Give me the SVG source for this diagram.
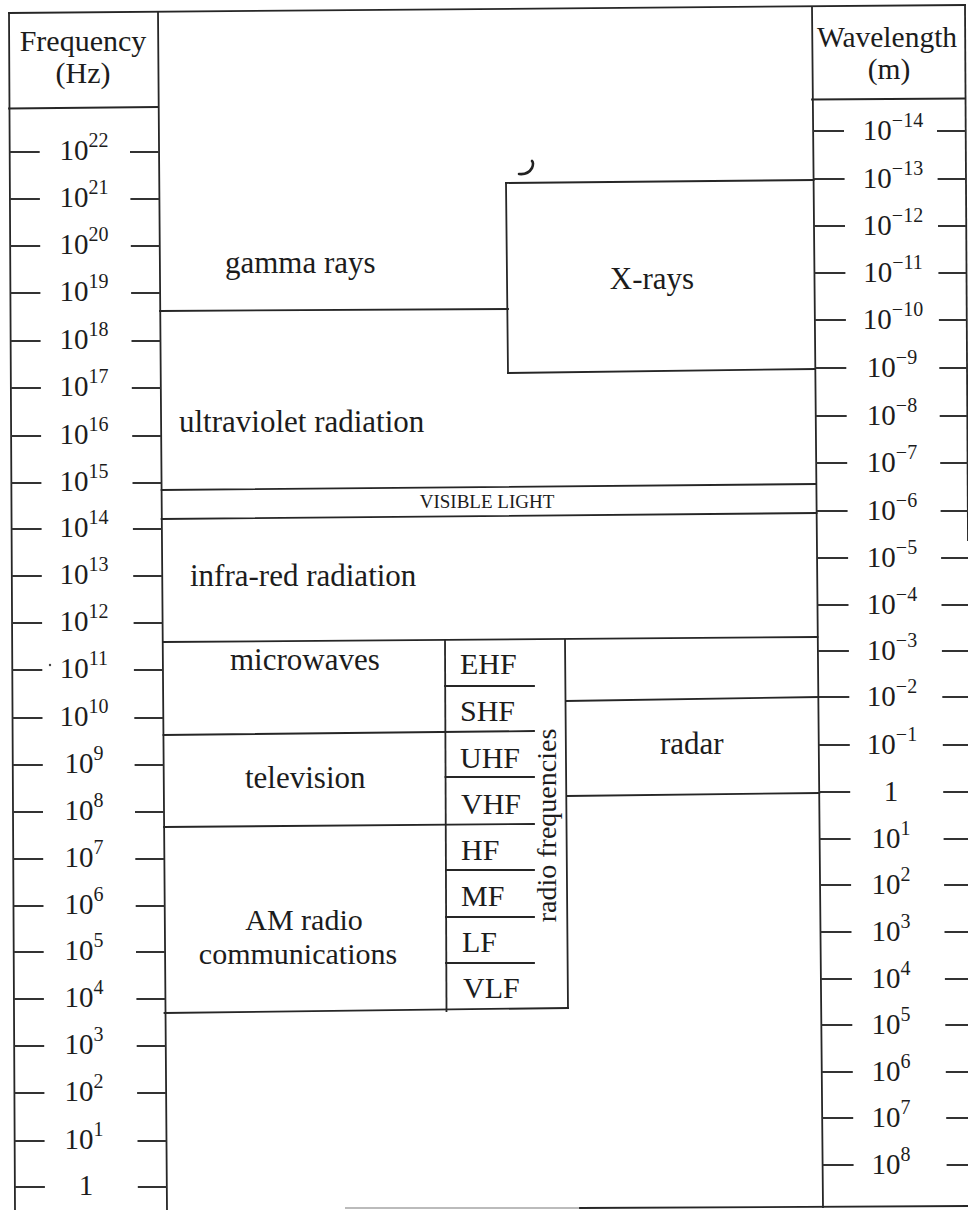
<svg xmlns="http://www.w3.org/2000/svg" width="968" height="1210" viewBox="0 0 968 1210">
<style>
.ln{stroke:#262626;stroke-width:1.8;fill:none;stroke-linecap:square}
.tk{stroke:#333;stroke-width:2;fill:none}
.t{font-family:"Liberation Serif","Times New Roman",serif;fill:#1c1c1c}
.lab{font-size:31px}
.hd{font-size:30px;text-anchor:middle}
.num{font-size:29px;text-anchor:middle}
.sup{font-size:20px}
.band{font-size:30px}
</style>
<rect width="968" height="1210" fill="#fff"/>

<g id="frame">
  <line class="ln" x1="9" y1="13" x2="965" y2="5"/>
  <line class="ln" x1="9" y1="13" x2="15" y2="1210"/>
  <line class="ln" x1="158" y1="12" x2="167" y2="1210"/>
  <line class="ln" x1="9" y1="108.5" x2="158" y2="107"/>
  <line class="ln" x1="812" y1="7" x2="823" y2="1207"/>
  <line class="ln" x1="965" y1="5" x2="968" y2="540"/>
  <line class="ln" x1="812" y1="99.5" x2="965" y2="98.5"/>
  <line x1="345" y1="1208" x2="580" y2="1208" stroke="#bbb" stroke-width="1.8"/>
  <line class="ln" x1="580" y1="1208" x2="968" y2="1206"/>
</g>

<g id="frequency-scale">
  <text class="t hd" x="83" y="51">Frequency</text>
  <text class="t hd" x="83" y="83">(Hz)</text>
  <g class="tk">
    <line x1="9.7" y1="152" x2="39.7" y2="152"/><line x1="130" y1="152" x2="159" y2="152"/>
    <line x1="9.9" y1="199" x2="39.9" y2="199"/><line x1="130.4" y1="199" x2="159.4" y2="199"/>
    <line x1="10.2" y1="246" x2="40.2" y2="246"/><line x1="130.8" y1="246" x2="159.8" y2="246"/>
    <line x1="10.4" y1="293" x2="40.4" y2="293"/><line x1="131.1" y1="293" x2="160.1" y2="293"/>
    <line x1="10.6" y1="341" x2="40.6" y2="341"/><line x1="131.5" y1="341" x2="160.5" y2="341"/>
    <line x1="10.9" y1="388" x2="40.9" y2="388"/><line x1="131.8" y1="388" x2="160.8" y2="388"/>
    <line x1="11.1" y1="436" x2="41.1" y2="436"/><line x1="132.2" y1="436" x2="161.2" y2="436"/>
    <line x1="11.4" y1="483" x2="41.4" y2="483"/><line x1="132.5" y1="483" x2="161.5" y2="483"/>
    <line x1="11.6" y1="529" x2="41.6" y2="529"/><line x1="132.9" y1="529" x2="161.9" y2="529"/>
    <line x1="11.8" y1="576" x2="41.8" y2="576"/><line x1="133.2" y1="576" x2="162.2" y2="576"/>
    <line x1="12.1" y1="623" x2="42.1" y2="623"/><line x1="133.6" y1="623" x2="162.6" y2="623"/>
    <line x1="12.3" y1="670" x2="42.3" y2="670"/><line x1="133.9" y1="670" x2="162.9" y2="670"/>
    <line x1="12.5" y1="718" x2="42.5" y2="718"/><line x1="134.3" y1="718" x2="163.3" y2="718"/>
    <line x1="12.8" y1="765" x2="42.8" y2="765"/><line x1="134.6" y1="765" x2="163.6" y2="765"/>
    <line x1="13" y1="812" x2="43" y2="812"/><line x1="135" y1="812" x2="164" y2="812"/>
    <line x1="13.2" y1="859" x2="43.2" y2="859"/><line x1="135.3" y1="859" x2="164.3" y2="859"/>
    <line x1="13.5" y1="906" x2="43.5" y2="906"/><line x1="135.7" y1="906" x2="164.7" y2="906"/>
    <line x1="13.7" y1="952" x2="43.7" y2="952"/><line x1="136" y1="952" x2="165" y2="952"/>
    <line x1="13.9" y1="999" x2="43.9" y2="999"/><line x1="136.4" y1="999" x2="165.4" y2="999"/>
    <line x1="14.2" y1="1046" x2="44.2" y2="1046"/><line x1="136.7" y1="1046" x2="165.7" y2="1046"/>
    <line x1="14.4" y1="1093" x2="44.4" y2="1093"/><line x1="137.1" y1="1093" x2="166.1" y2="1093"/>
    <line x1="14.6" y1="1141" x2="44.6" y2="1141"/><line x1="137.5" y1="1141" x2="166.5" y2="1141"/>
    <line x1="14.9" y1="1187" x2="44.9" y2="1187"/><line x1="137.8" y1="1187" x2="166.8" y2="1187"/>
  </g>
  <text class="t num" x="84" y="160">10<tspan class="sup" dy="-13">22</tspan></text>
  <text class="t num" x="84" y="207">10<tspan class="sup" dy="-13">21</tspan></text>
  <text class="t num" x="84" y="254">10<tspan class="sup" dy="-13">20</tspan></text>
  <text class="t num" x="84" y="301">10<tspan class="sup" dy="-13">19</tspan></text>
  <text class="t num" x="84" y="349">10<tspan class="sup" dy="-13">18</tspan></text>
  <text class="t num" x="84" y="396">10<tspan class="sup" dy="-13">17</tspan></text>
  <text class="t num" x="84" y="444">10<tspan class="sup" dy="-13">16</tspan></text>
  <text class="t num" x="84" y="491">10<tspan class="sup" dy="-13">15</tspan></text>
  <text class="t num" x="84" y="537">10<tspan class="sup" dy="-13">14</tspan></text>
  <text class="t num" x="84" y="584">10<tspan class="sup" dy="-13">13</tspan></text>
  <text class="t num" x="84" y="631">10<tspan class="sup" dy="-13">12</tspan></text>
  <text class="t num" x="84" y="678">10<tspan class="sup" dy="-13">11</tspan></text>
  <text class="t num" x="84" y="726">10<tspan class="sup" dy="-13">10</tspan></text>
  <text class="t num" x="84" y="773">10<tspan class="sup" dy="-13">9</tspan></text>
  <text class="t num" x="84" y="820">10<tspan class="sup" dy="-13">8</tspan></text>
  <text class="t num" x="84" y="867">10<tspan class="sup" dy="-13">7</tspan></text>
  <text class="t num" x="84" y="914">10<tspan class="sup" dy="-13">6</tspan></text>
  <text class="t num" x="84" y="960">10<tspan class="sup" dy="-13">5</tspan></text>
  <text class="t num" x="84" y="1007">10<tspan class="sup" dy="-13">4</tspan></text>
  <text class="t num" x="84" y="1054">10<tspan class="sup" dy="-13">3</tspan></text>
  <text class="t num" x="84" y="1101">10<tspan class="sup" dy="-13">2</tspan></text>
  <text class="t num" x="84" y="1149">10<tspan class="sup" dy="-13">1</tspan></text>
  <text class="t num" x="86" y="1195">1</text>
  <circle cx="50" cy="665" r="1.2" fill="#444"/>
</g>

<g id="wavelength-scale">
  <text class="t hd" x="887" y="47" style="font-size:29.5px">Wavelength</text>
  <text class="t hd" x="889" y="79" style="font-size:29.5px">(m)</text>
  <g class="tk">
    <line x1="813.1" y1="131" x2="844" y2="131"/><line x1="937" y1="131" x2="966" y2="131"/>
    <line x1="813.6" y1="179" x2="844.6" y2="179"/><line x1="937.6" y1="179" x2="966" y2="179"/>
    <line x1="814" y1="226" x2="845" y2="226"/><line x1="938" y1="226" x2="966" y2="226"/>
    <line x1="814.4" y1="273" x2="845.4" y2="273"/><line x1="938.4" y1="273" x2="966" y2="273"/>
    <line x1="814.9" y1="320" x2="845.9" y2="320"/><line x1="938.9" y1="320" x2="966.5" y2="320"/>
    <line x1="815.3" y1="368" x2="846.3" y2="368"/><line x1="939.3" y1="368" x2="967" y2="368"/>
    <line x1="815.7" y1="416" x2="846.7" y2="416"/><line x1="939.7" y1="416" x2="967" y2="416"/>
    <line x1="816.2" y1="463" x2="847.2" y2="463"/><line x1="940.2" y1="463" x2="968" y2="463"/>
    <line x1="816.6" y1="511" x2="847.6" y2="511"/><line x1="940.6" y1="511" x2="968" y2="511"/>
    <line x1="817.1" y1="558" x2="848.1" y2="558"/><line x1="941.1" y1="558" x2="968" y2="558"/>
    <line x1="817.5" y1="605" x2="848.5" y2="605"/><line x1="941.5" y1="605" x2="968" y2="605"/>
    <line x1="817.9" y1="651" x2="848.9" y2="651"/><line x1="941.9" y1="651" x2="968" y2="651"/>
    <line x1="818.3" y1="697" x2="849.3" y2="697"/><line x1="942.3" y1="697" x2="968" y2="697"/>
    <line x1="818.8" y1="745" x2="849.8" y2="745"/><line x1="942.8" y1="745" x2="968" y2="745"/>
    <line x1="819.2" y1="792" x2="850.2" y2="792"/><line x1="943.2" y1="792" x2="968" y2="792"/>
    <line x1="819.6" y1="839" x2="850.6" y2="839"/><line x1="943.6" y1="839" x2="968" y2="839"/>
    <line x1="820.1" y1="885" x2="851.1" y2="885"/><line x1="944.1" y1="885" x2="968" y2="885"/>
    <line x1="820.5" y1="932" x2="851.5" y2="932"/><line x1="944.5" y1="932" x2="968" y2="932"/>
    <line x1="820.9" y1="979" x2="851.9" y2="979"/><line x1="944.9" y1="979" x2="968" y2="979"/>
    <line x1="821.3" y1="1025" x2="852.3" y2="1025"/><line x1="945.3" y1="1025" x2="968" y2="1025"/>
    <line x1="821.8" y1="1072" x2="852.8" y2="1072"/><line x1="945.8" y1="1072" x2="968" y2="1072"/>
    <line x1="822.2" y1="1118" x2="853.2" y2="1118"/><line x1="946.2" y1="1118" x2="968" y2="1118"/>
    <line x1="822.6" y1="1165" x2="853.6" y2="1165"/><line x1="946.6" y1="1165" x2="968" y2="1165"/>
  </g>
  <text class="t num" x="893" y="140">10<tspan class="sup" dy="-13">−14</tspan></text>
  <text class="t num" x="893" y="188">10<tspan class="sup" dy="-13">−13</tspan></text>
  <text class="t num" x="893" y="235">10<tspan class="sup" dy="-13">−12</tspan></text>
  <text class="t num" x="893" y="282">10<tspan class="sup" dy="-13">−11</tspan></text>
  <text class="t num" x="893" y="329">10<tspan class="sup" dy="-13">−10</tspan></text>
  <text class="t num" x="892" y="377">10<tspan class="sup" dy="-13">−9</tspan></text>
  <text class="t num" x="892" y="425">10<tspan class="sup" dy="-13">−8</tspan></text>
  <text class="t num" x="892" y="472">10<tspan class="sup" dy="-13">−7</tspan></text>
  <text class="t num" x="892" y="520">10<tspan class="sup" dy="-13">−6</tspan></text>
  <text class="t num" x="892" y="567">10<tspan class="sup" dy="-13">−5</tspan></text>
  <text class="t num" x="892" y="614">10<tspan class="sup" dy="-13">−4</tspan></text>
  <text class="t num" x="892" y="660">10<tspan class="sup" dy="-13">−3</tspan></text>
  <text class="t num" x="892" y="706">10<tspan class="sup" dy="-13">−2</tspan></text>
  <text class="t num" x="892" y="754">10<tspan class="sup" dy="-13">−1</tspan></text>
  <text class="t num" x="891" y="801">1</text>
  <text class="t num" x="891" y="848">10<tspan class="sup" dy="-13">1</tspan></text>
  <text class="t num" x="891" y="894">10<tspan class="sup" dy="-13">2</tspan></text>
  <text class="t num" x="891" y="941">10<tspan class="sup" dy="-13">3</tspan></text>
  <text class="t num" x="891" y="988">10<tspan class="sup" dy="-13">4</tspan></text>
  <text class="t num" x="891" y="1034">10<tspan class="sup" dy="-13">5</tspan></text>
  <text class="t num" x="891" y="1081">10<tspan class="sup" dy="-13">6</tspan></text>
  <text class="t num" x="891" y="1127">10<tspan class="sup" dy="-13">7</tspan></text>
  <text class="t num" x="891" y="1174">10<tspan class="sup" dy="-13">8</tspan></text>
</g>

<g id="connectors">
  <line class="ln" x1="160" y1="311" x2="508" y2="309"/>
  <line class="ln" x1="506" y1="183" x2="508" y2="373"/>
  <line class="ln" x1="506" y1="183" x2="813.6" y2="180"/>
  <line class="ln" x1="508" y1="373" x2="815" y2="369"/>
  <line class="ln" x1="161.6" y1="490" x2="816" y2="484"/>
  <line class="ln" x1="161.6" y1="519" x2="816.5" y2="513"/>
  <line class="ln" x1="163" y1="642" x2="817.5" y2="637"/>
  <line class="ln" x1="163.5" y1="735" x2="534" y2="731"/>
  <line class="ln" x1="164" y1="827" x2="534" y2="824"/>
  <line class="ln" x1="164.5" y1="1013" x2="568" y2="1008"/>
  <line class="ln" x1="445" y1="641" x2="446.5" y2="1011"/>
  <line class="ln" x1="565" y1="640" x2="568" y2="1008"/>
  <line class="ln" x1="445" y1="686" x2="534" y2="686"/>
  <line class="ln" x1="445.5" y1="777" x2="534" y2="777"/>
  <line class="ln" x1="446" y1="870" x2="534" y2="870"/>
  <line class="ln" x1="446" y1="917" x2="534" y2="917"/>
  <line class="ln" x1="446" y1="963" x2="534" y2="963"/>
  <line class="ln" x1="566" y1="701" x2="818.3" y2="697"/>
  <line class="ln" x1="567" y1="796" x2="819.3" y2="793"/>
  <path d="M519,174 Q528,175 532,168 Q534,163 532,161" fill="none" stroke="#222" stroke-width="2.6" stroke-linecap="round"/>
</g>

<g id="gamma-rays"><text class="t lab" x="225" y="273">gamma rays</text></g>
<g id="x-rays"><text class="t lab" x="652" y="289" text-anchor="middle">X-rays</text></g>
<g id="ultraviolet"><text class="t lab" x="179" y="432">ultraviolet radiation</text></g>
<g id="visible-light"><text class="t" x="487" y="508" text-anchor="middle" style="font-size:19px">VISIBLE LIGHT</text></g>
<g id="infra-red"><text class="t lab" x="190" y="586">infra-red radiation</text></g>
<g id="microwaves"><text class="t lab" x="230" y="670">microwaves</text></g>
<g id="television"><text class="t lab" x="245" y="788">television</text></g>
<g id="am-radio">
  <text class="t" x="304" y="930" text-anchor="middle" style="font-size:30px">AM radio</text>
  <text class="t" x="298" y="964" text-anchor="middle" style="font-size:30px">communications</text>
</g>
<g id="radio-frequencies">
  <text class="t band" x="460" y="674">EHF</text>
  <text class="t band" x="460" y="721">SHF</text>
  <text class="t band" x="460" y="768">UHF</text>
  <text class="t band" x="461" y="814">VHF</text>
  <text class="t band" x="461" y="860">HF</text>
  <text class="t band" x="461" y="906">MF</text>
  <text class="t band" x="462" y="952">LF</text>
  <text class="t band" x="463" y="998">VLF</text>
  <text class="t" transform="translate(556,825.5) rotate(-90)" text-anchor="middle" style="font-size:28px">radio frequencies</text>
</g>
<g id="radar"><text class="t lab" x="660" y="754">radar</text></g>
</svg>
